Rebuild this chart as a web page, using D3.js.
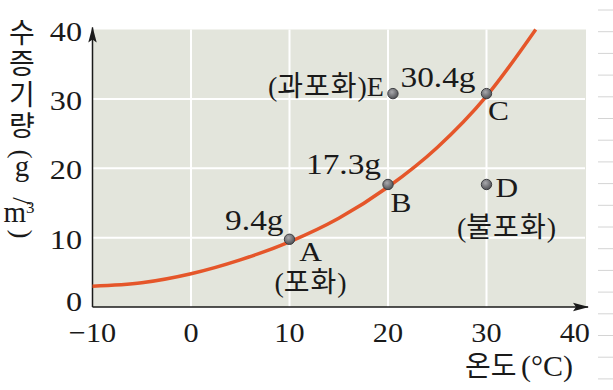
<!DOCTYPE html>
<html>
<head>
<meta charset="utf-8">
<script src="https://cdn.jsdelivr.net/npm/d3@7"></script>
<style>
  body { margin: 0; background: #fff; }
  svg { display: block; }
  .num { font-family: "Liberation Serif", serif; fill: #1a1a1a; }
  /* hangul comes from the CJK face; serif first keeps the text boxes tight */
  .kor { font-family: "Liberation Serif", "Noto Sans CJK KR", sans-serif; fill: #1a1a1a; }
</style>
</head>
<body>
<div id="chart"></div>
<script>
// Data
const xTicks = [-10, 0, 10, 20, 30, 40];
const yTicks = [0, 10, 20, 30, 40];
const gridX = [0, 10, 20, 30];
const gridY = [10, 20, 30];

// saturation curve (temperature, g/m3)
const curveTemp = [-10, -5, 0, 5, 10, 15, 20, 25, 30, 35];
const curveVapor = [3.0, 3.5, 4.8, 6.8, 9.4, 12.8, 17.3, 23.0, 30.4, 40.0];

// labelled points
const pointNames = ["A", "B", "C", "D", "E"];
const pointTemp = [10, 20, 30, 30, 20.5];
const pointVapor = [9.4, 17.3, 30.4, 17.3, 30.4];
const valueLabels = ["9.4g", "17.3g", "30.4g", "", ""];
const stateWords = ["포화", "", "", "불포화", "과포화"];

const W = 613, H = 390;
const svg = d3.select("#chart").append("svg")
    .attr("width", W)
    .attr("height", H);

const x = d3.scaleLinear().domain([-10, 40]).range([92.5, 585]);
const y = d3.scaleLinear().domain([0, 40]).range([307, 29.5]);

// widen serif text a little, the printed face is broader than Times
function stretch(sel, k) {
    sel.each(function() {
        const w = this.getComputedTextLength();
        d3.select(this)
            .attr("textLength", w * k)
            .attr("lengthAdjust", "spacingAndGlyphs");
    });
}

// faint ruled lines at the right edge of the page
svg.append("g").selectAll("line")
    .data(d3.range(10, H, 21.7))
    .enter().append("line")
    .attr("x1", 598).attr("x2", W)
    .attr("y1", d => d).attr("y2", d => d)
    .attr("stroke", "#d4d4d4")
    .attr("stroke-width", 1);

// plot background
svg.append("rect")
    .attr("x", x(-10))
    .attr("y", y(40))
    .attr("width", x(40) - x(-10) + 1)
    .attr("height", y(0) - y(40))
    .attr("fill", "#e3e5dc");

// grid
svg.append("g").selectAll("line")
    .data(gridX)
    .enter().append("line")
    .attr("x1", d => x(d)).attr("x2", d => x(d))
    .attr("y1", y(0)).attr("y2", y(40))
    .attr("stroke", "#fff")
    .attr("stroke-width", 2);

svg.append("g").selectAll("line")
    .data(gridY)
    .enter().append("line")
    .attr("x1", x(-10)).attr("x2", x(40))
    .attr("y1", d => y(d)).attr("y2", d => y(d))
    .attr("stroke", "#fff")
    .attr("stroke-width", 2);

// arrow heads + dot shading
const defs = svg.append("defs");
defs.append("marker")
    .attr("id", "arrow")
    .attr("viewBox", "0 0 16 10")
    .attr("refX", 15).attr("refY", 5)
    .attr("markerWidth", 16).attr("markerHeight", 10)
    .attr("markerUnits", "userSpaceOnUse")
    .attr("orient", "auto")
    .append("path")
    .attr("d", "M0,0.8 L16,5 L0,9.2 L3,5 Z")
    .attr("fill", "#1a1a1a");

const grad = defs.append("radialGradient")
    .attr("id", "dot")
    .attr("cx", "40%").attr("cy", "35%").attr("r", "65%");
grad.append("stop").attr("offset", "0%").attr("stop-color", "#a9a9ad");
grad.append("stop").attr("offset", "100%").attr("stop-color", "#505155");

// axes
svg.append("line")
    .attr("x1", x(-10)).attr("y1", y(0))
    .attr("x2", x(40) + 3).attr("y2", y(0))
    .attr("stroke", "#1a1a1a").attr("stroke-width", 1.5)
    .attr("marker-end", "url(#arrow)");

svg.append("line")
    .attr("x1", x(-10)).attr("y1", y(0))
    .attr("x2", x(-10)).attr("y2", y(40) - 2)
    .attr("stroke", "#1a1a1a").attr("stroke-width", 1.5)
    .attr("marker-end", "url(#arrow)");

// tick labels
const xLabels = svg.append("g").selectAll("text")
    .data(xTicks)
    .enter().append("text")
    .attr("class", "num")
    .attr("x", d => d === 40 ? x(d) + 5 : x(d))
    .attr("y", 342)
    .attr("text-anchor", d => d === 40 ? "end" : "middle")
    .attr("font-size", 28)
    .text(d => d < 0 ? "\u2212" + Math.abs(d) : d);
stretch(xLabels, 1.08);

const yLabels = svg.append("g").selectAll("text")
    .data(yTicks)
    .enter().append("text")
    .attr("class", "num")
    .attr("x", 82)
    .attr("y", d => y(d) + (d === 0 ? 4 : 11))
    .attr("text-anchor", "end")
    .attr("font-size", 28)
    .text(d => d);
stretch(yLabels, 1.15);

// saturation curve
const line = d3.line()
    .x((d, i) => x(curveTemp[i]))
    .y(d => y(d))
    .curve(d3.curveMonotoneX);

svg.append("path")
    .datum(curveVapor)
    .attr("d", line)
    .attr("fill", "none")
    .attr("stroke", "#e5562a")
    .attr("stroke-width", 3.5);

// points
svg.append("g").selectAll("circle")
    .data(pointNames)
    .enter().append("circle")
    .attr("cx", (d, i) => x(pointTemp[i]))
    .attr("cy", (d, i) => y(pointVapor[i]) - 2.5)
    .attr("r", 5.2)
    .attr("fill", "url(#dot)")
    .attr("stroke", "#3d3e42")
    .attr("stroke-width", 1);

// label offsets (px) around each point
const nameOff = {
    A: { dx: 21, dy: 19, anchor: "middle" },
    B: { dx: 13, dy: 25, anchor: "middle" },
    C: { dx: 12, dy: 24, anchor: "middle" },
    D: { dx: 9, dy: 10, anchor: "start" },
    E: { dx: -9, dy: 0, anchor: "end" }
};
const valueOff = {
    A: { dx: -6, dy: -12 },
    B: { dx: -7, dy: -13 },
    C: { dx: -11, dy: -9 }
};
const stateOff = {
    A: { dx: 21, dy: 50 },
    D: { dx: 20, dy: 50 }
};

// "(한글)" with serif parens and gothic hangul
function stateText(g, word, px, py, anchor, tail) {
    const t = g.append("text")
        .attr("x", px).attr("y", py)
        .attr("text-anchor", anchor);
    t.append("tspan").attr("class", "num").attr("font-size", 28).text("(");
    t.append("tspan").attr("class", "kor").attr("font-size", 28).attr("letter-spacing", 1).text(word);
    t.append("tspan").attr("class", "num").attr("font-size", 28).text(")" + (tail || ""));
    return t;
}

const labels = svg.append("g");
pointNames.forEach((name, i) => {
    const px = x(pointTemp[i]);
    const py = y(pointVapor[i]);
    const no = nameOff[name];

    if (name === "E") {
        stateText(labels, stateWords[i], px + no.dx, py + no.dy, "end", name);
    } else {
        const t = labels.append("text")
            .attr("class", "num")
            .attr("x", px + no.dx)
            .attr("y", py + no.dy)
            .attr("text-anchor", no.anchor)
            .attr("font-size", 28)
            .text(name);
        stretch(t, 1.12);
    }

    if (valueLabels[i]) {
        const v = labels.append("text")
            .attr("class", "num")
            .attr("x", px + valueOff[name].dx)
            .attr("y", py + valueOff[name].dy)
            .attr("text-anchor", "end")
            .attr("font-size", 29)
            .text(valueLabels[i]);
        stretch(v, 1.15);
    }

    if (stateWords[i] && stateOff[name]) {
        stateText(labels, stateWords[i], px + stateOff[name].dx, py + stateOff[name].dy, "middle");
    }
});

// y axis title: hangul set vertically, then the unit stacked underneath
const titleX = 22;
svg.append("text")
    .attr("x", titleX)
    .attr("y", 18)
    .attr("writing-mode", "vertical-rl")
    .attr("letter-spacing", 3)
    .attr("font-size", 28)
    .style("font-family", '"Noto Sans CJK KR", sans-serif')
    .style("fill", "#1a1a1a")
    .text("수증기량");

// parens and slash are turned a quarter round
[["(", 154], ["/", 201], [")", 234]].forEach(([c, cy]) => {
    svg.append("text")
        .attr("class", "num")
        .attr("text-anchor", "middle")
        .attr("dominant-baseline", "central")
        .attr("font-size", 27)
        .attr("transform", `translate(${titleX},${cy}) rotate(90)`)
        .text(c);
});
svg.append("text")
    .attr("class", "num")
    .attr("x", titleX).attr("y", 176)
    .attr("text-anchor", "middle")
    .attr("font-size", 29)
    .text("g");
const unitM = svg.append("text")
    .attr("class", "num")
    .attr("x", titleX - 3).attr("y", 222)
    .attr("text-anchor", "middle")
    .attr("font-size", 29);
unitM.append("tspan").text("m");
unitM.append("tspan").attr("font-size", 17).attr("dy", -9).text("3");

// x axis title
const xt = svg.append("text")
    .attr("y", 376);
xt.append("tspan").attr("class", "kor").attr("x", 465).attr("font-size", 28).text("온도");
xt.append("tspan").attr("class", "num").attr("x", 521).attr("font-size", 30).text("(°C)");
</script>
</body>
</html>
